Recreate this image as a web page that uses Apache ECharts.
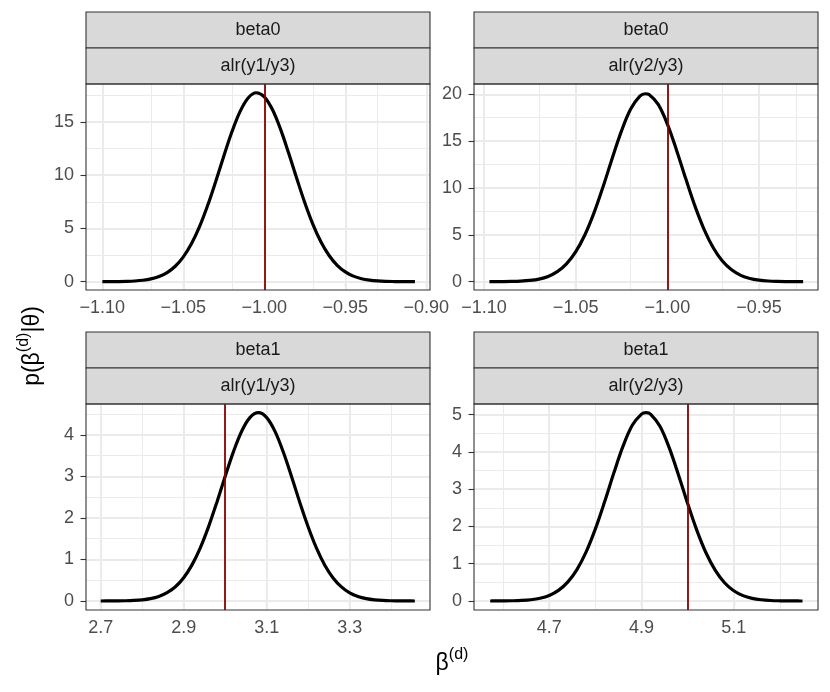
<!DOCTYPE html>
<html>
<head>
<meta charset="utf-8">
<script src="https://cdn.jsdelivr.net/npm/echarts@6/dist/echarts.min.js"></script>
<style>
  html, body { margin: 0; padding: 0; background: #fff; }
  #chart { width: 830px; height: 692px; }
</style>
</head>
<body>
<div id="chart"></div>
<script>
// facet labels
var stripTop = ['beta0', 'beta0', 'beta1', 'beta1'];
var stripSub = ['alr(y1/y3)', 'alr(y2/y3)', 'alr(y1/y3)', 'alr(y2/y3)'];
var trueValues = [-1.00, -1.00, 3.0, 5.0];

// density curves
var xB0a = [-1.100, -1.095, -1.090, -1.085, -1.080, -1.075, -1.070, -1.065, -1.060, -1.055,
            -1.050, -1.045, -1.040, -1.035, -1.030, -1.025, -1.020, -1.015, -1.010, -1.005,
            -1.000, -0.995, -0.990, -0.985, -0.980, -0.975, -0.970, -0.965, -0.960, -0.955,
            -0.950, -0.945, -0.940, -0.935, -0.930, -0.925, -0.920, -0.915, -0.910, -0.907];
var dB0a = [0.002, 0.006, 0.013, 0.030, 0.065, 0.133, 0.261, 0.486, 0.861, 1.451,
            2.331, 3.559, 5.172, 7.155, 9.42, 11.81, 14.08, 15.98, 17.26, 17.75,
            17.37, 16.17, 14.33, 12.09, 9.71, 7.42, 5.39, 3.73, 2.46, 1.54,
            0.92, 0.522, 0.282, 0.145, 0.071, 0.033, 0.015, 0.006, 0.003, 0.001];

var xB0b = [-1.097, -1.095, -1.090, -1.085, -1.080, -1.075, -1.070, -1.065, -1.060, -1.055,
            -1.050, -1.045, -1.040, -1.035, -1.030, -1.025, -1.020, -1.015, -1.012, -1.010, -1.005,
            -1.000, -0.995, -0.990, -0.985, -0.980, -0.975, -0.970, -0.965, -0.960, -0.955,
            -0.950, -0.945, -0.940, -0.935, -0.930, -0.926];
var dB0b = [0.002, 0.003, 0.009, 0.023, 0.056, 0.129, 0.277, 0.561, 1.065, 1.896,
            3.17, 4.98, 7.34, 10.16, 13.20, 16.09, 18.42, 19.80, 20.06, 19.98, 18.92,
            16.82, 14.04, 11.00, 8.09, 5.59, 3.62, 2.20, 1.26, 0.675, 0.340,
            0.161, 0.071, 0.030, 0.012, 0.004, 0.002];

var xB1a = [2.70, 2.72, 2.74, 2.76, 2.78, 2.80, 2.82, 2.84, 2.86, 2.88,
            2.90, 2.92, 2.94, 2.96, 2.98, 3.00, 3.02, 3.04, 3.06, 3.08,
            3.10, 3.12, 3.14, 3.16, 3.18, 3.20, 3.22, 3.24, 3.26, 3.28,
            3.30, 3.32, 3.34, 3.36, 3.38, 3.40, 3.42, 3.44, 3.457];
var dB1a = [0.0004, 0.001, 0.0026, 0.0061, 0.0136, 0.0287, 0.0577, 0.110, 0.199, 0.343,
            0.561, 0.870, 1.282, 1.793, 2.382, 3.006, 3.600, 4.096, 4.423, 4.537,
            4.419, 4.087, 3.589, 2.993, 2.370, 1.783, 1.273, 0.863, 0.556, 0.340,
            0.197, 0.109, 0.057, 0.028, 0.013, 0.006, 0.0026, 0.001, 0.0004];

var xB1b = [4.572, 4.58, 4.60, 4.62, 4.64, 4.66, 4.68, 4.70, 4.72, 4.74,
            4.76, 4.78, 4.80, 4.82, 4.84, 4.86, 4.88, 4.90, 4.91, 4.92, 4.94,
            4.96, 4.98, 5.00, 5.02, 5.04, 5.06, 5.08, 5.10, 5.12, 5.14,
            5.16, 5.18, 5.20, 5.22, 5.24, 5.249];
var dB1b = [0.0006, 0.0008, 0.0023, 0.0061, 0.015, 0.0345, 0.0743, 0.150, 0.285, 0.506,
            0.844, 1.319, 1.936, 2.662, 3.433, 4.154, 4.714, 5.016, 5.052, 5.007, 4.687,
            4.114, 3.387, 2.616, 1.895, 1.287, 0.820, 0.490, 0.274, 0.144, 0.071,
            0.033, 0.014, 0.006, 0.0022, 0.0008, 0.0005];

var curvesX = [xB0a, xB0b, xB1a, xB1b];
var curvesY = [dB0a, dB0b, dB1a, dB1b];

// axis limits and breaks
var xLimits = [[-1.1101, -0.8977], [-1.1054, -0.9179], [2.6646, 3.4935], [4.5369, 5.2826]];
var yLimits = [[-0.78, 18.57], [-0.89, 21.1], [-0.217, 4.747], [-0.2415, 5.286]];
var xBreaks = [[-1.10, -1.05, -1.00, -0.95, -0.90], [-1.10, -1.05, -1.00, -0.95], [2.7, 2.9, 3.1, 3.3], [4.7, 4.9, 5.1]];
var xMinorBreaks = [[-1.075, -1.025, -0.975, -0.925], [-1.075, -1.025, -0.975, -0.925], [2.8, 3.0, 3.2, 3.4], [4.6, 4.8, 5.0, 5.2]];
var yBreaks = [[0, 5, 10, 15], [0, 5, 10, 15, 20], [0, 1, 2, 3, 4], [0, 1, 2, 3, 4, 5]];
var yMinorBreaks = [[2.5, 7.5, 12.5, 17.5], [2.5, 7.5, 12.5, 17.5], [0.5, 1.5, 2.5, 3.5, 4.5], [0.5, 1.5, 2.5, 3.5, 4.5]];
var xDigits = [2, 2, 1, 1];

var FONT = '"Liberation Sans", Arial, Helvetica, sans-serif';
var panels = [
  { left: 86, top: 84, width: 344, height: 206 },
  { left: 474, top: 84, width: 344, height: 206 },
  { left: 86, top: 404, width: 344, height: 206 },
  { left: 474, top: 404, width: 344, height: 206 }
];
var stripH = 36;

var chart = echarts.init(document.getElementById('chart'), null, { renderer: 'canvas' });

var grids = [], xAxes = [], yAxes = [], series = [], graphics = [];

panels.forEach(function (p, i) {
  grids.push({ left: p.left, top: p.top, width: p.width, height: p.height, containLabel: false });

  xAxes.push({
    type: 'value', gridIndex: i, min: xLimits[i][0], max: xLimits[i][1],
    axisLine: { show: false },
    splitLine: { show: false },
    axisTick: { show: true, customValues: xBreaks[i], length: 5.5, lineStyle: { color: '#333333', width: 1.1 } },
    axisLabel: {
      customValues: xBreaks[i], margin: 9, color: '#4D4D4D', fontSize: 18, fontFamily: FONT,
      formatter: (function (d) {
        return function (v) { return (v < 0 ? '\u2212' : '') + Math.abs(v).toFixed(d); };
      })(xDigits[i])
    }
  });

  yAxes.push({
    type: 'value', gridIndex: i, min: yLimits[i][0], max: yLimits[i][1],
    axisLine: { show: false },
    splitLine: { show: false },
    axisTick: { show: true, customValues: yBreaks[i], length: 5.5, lineStyle: { color: '#333333', width: 1.1 } },
    axisLabel: {
      customValues: yBreaks[i], margin: 12, color: '#4D4D4D', fontSize: 18, fontFamily: FONT,
      formatter: function (v) { return String(Math.round(v)); }
    }
  });

  // panel grid lines (markLine z defaults to 5, keep them under the curve)
  var gl = [];
  xMinorBreaks[i].forEach(function (v) { gl.push({ xAxis: v, lineStyle: { color: '#EBEBEB', width: 1 } }); });
  yMinorBreaks[i].forEach(function (v) { gl.push({ yAxis: v, lineStyle: { color: '#EBEBEB', width: 1 } }); });
  xBreaks[i].forEach(function (v) { gl.push({ xAxis: v, lineStyle: { color: '#EBEBEB', width: 2 } }); });
  yBreaks[i].forEach(function (v) { gl.push({ yAxis: v, lineStyle: { color: '#EBEBEB', width: 2 } }); });
  series.push({
    type: 'line', xAxisIndex: i, yAxisIndex: i, data: [], z: 1, silent: true,
    markLine: { z: 1, silent: true, symbol: ['none', 'none'], label: { show: false }, animation: false,
      emphasis: { disabled: true }, lineStyle: { type: 'solid' }, data: gl }
  });

  // density curve
  series.push({
    type: 'line', xAxisIndex: i, yAxisIndex: i, z: 3,
    data: curvesX[i].map(function (x, k) { return [x, curvesY[i][k]]; }),
    smooth: 0.35, showSymbol: false, symbol: 'none', animation: false,
    emphasis: { disabled: true },
    lineStyle: { color: '#000000', width: 3.2 }
  });

  // true value line
  series.push({
    type: 'line', xAxisIndex: i, yAxisIndex: i, data: [], z: 6, silent: true,
    markLine: { z: 6, silent: true, symbol: ['none', 'none'], label: { show: false }, animation: false,
      emphasis: { disabled: true },
      lineStyle: { color: '#8B0000', width: 1.8, type: 'solid' },
      data: [{ xAxis: trueValues[i] }] }
  });

  // strips
  [stripTop[i], stripSub[i]].forEach(function (label, s) {
    var y0 = p.top - (2 - s) * stripH;
    graphics.push({
      type: 'rect', z: 50,
      shape: { x: p.left, y: y0, width: p.width, height: stripH },
      style: { fill: '#D9D9D9', stroke: '#333333', lineWidth: 1.1 }
    });
    graphics.push({
      type: 'text', z: 51, x: p.left + p.width / 2, y: y0 + stripH / 2,
      style: { text: label, fill: '#1A1A1A', fontSize: 18, fontFamily: FONT, align: 'center', verticalAlign: 'middle' }
    });
  });

  // panel border
  graphics.push({
    type: 'rect', z: 60,
    shape: { x: p.left, y: p.top, width: p.width, height: p.height },
    style: { fill: null, stroke: '#333333', lineWidth: 1.1 }
  });
});

// axis titles
var richTitle = {
  m: { fontSize: 23, fontFamily: FONT, fill: '#000', lineHeight: 28, verticalAlign: 'bottom' },
  s: { fontSize: 16, fontFamily: FONT, fill: '#000', lineHeight: 16, verticalAlign: 'top' }
};
graphics.push({
  type: 'text', z: 70, x: 452, y: 661,
  style: { text: '{m|\u03B2}{s|(d)}', rich: richTitle, align: 'center', verticalAlign: 'middle' }
});
graphics.push({
  type: 'text', z: 70, x: 30, y: 346, rotation: Math.PI / 2,
  style: { text: '{m|p(\u03B2}{s|(d)}{m||\u03B8)}', rich: richTitle, align: 'center', verticalAlign: 'middle' }
});

var option = {
  backgroundColor: '#ffffff',
  animation: false,
  grid: grids,
  xAxis: xAxes,
  yAxis: yAxes,
  series: series,
  graphic: graphics
};

chart.setOption(option);
</script>
</body>
</html>
